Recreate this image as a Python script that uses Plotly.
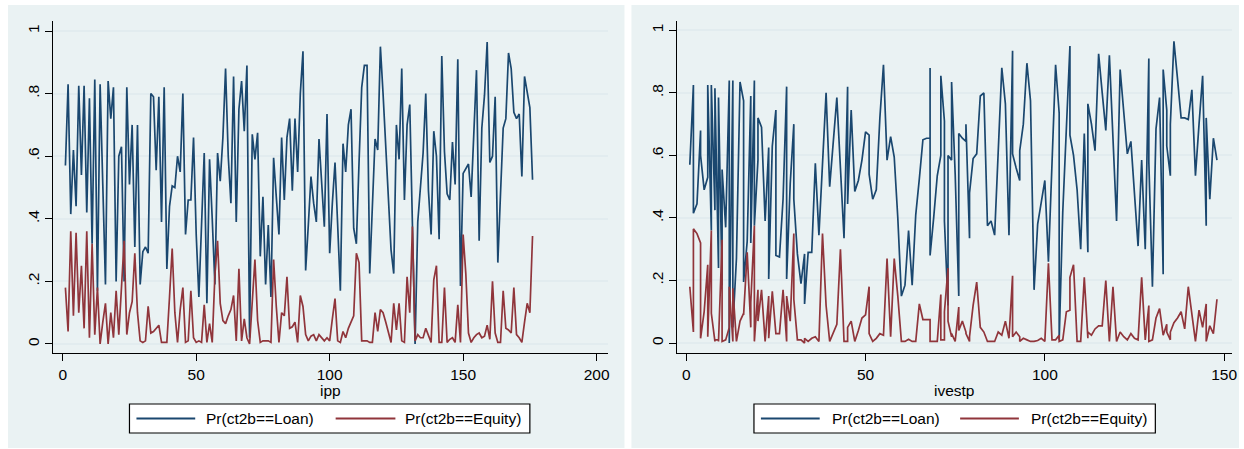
import plotly.graph_objects as go

# ---------------- data: left panel (x = ipp) ----------------
ipp_loan = [
    .57, .83, .415, .62, .44, .825, .54, .825, .42, .785, .32, .845, .17, .83, .51, .19, .84, .72, .82, .20,
    .60, .63, .20, .82, .51, .70, .31, .70, .19, .295, .31, .29, .80, .79, .555, .79, .39, .82, .24, .44,
    .505, .50, .60, .55, .80, .35, .46, .46, .66, .35, .15, .40, .61, .13, .59, .40, .19, .61, .52,
    .66, .88, .60, .45, .855, .39, .75, .84, .68, .89, .02, .67, .59, .675, .28, .47, .19, .38, .15, .595,
    .47, .35, .66, .46, .66, .72, .49, .72, .55, .80, .935, .235, .38, .535, .45, .39, .655, .50, .375, .735,
    .29, .45, .58, .38, .17, .64, .55, .70, .75, .37, .32, .58, .82, .89, .89, .225, .45, .655, .62, .95,
    .80, .62, .45, .30, .225, .70, .59, .88, .46, .70, .765, .37, .00, .39, .50, .61, .80, .49, .35, .68,
    .60, .335, .92, .615, .48, .46, .645, .51, .91, .185, .545, .56, .575, .47, .70, .875, .33, .69, .795, .965,
    .58, .60, .79, .26, .48, .69, .72, .93, .88, .74, .72, .735, .535, .855, .805, .755, .525,
]
ipp_equity = [
    .18, .04, .36, .09, .355, .10, .25, .05, .36, .02, .32, .03, .18, .00, .07, .13, .00, .10, .02, .17,
    .03, .18, .33, .03, .10, .135, .29, .10, .01, .005, .01, .12, .035, .04, .05, .06, .005, .005, .005, .15,
    .305, .10, .005, .11, .18, .005, .01, .17, .02, .005, .01, .005, .125, .005, .065, .005, .22, .33, .13,
    .075, .065, .09, .11, .155, .01, .24, .01, .08, .02, .00, .12, .27, .075, .005, .01, .01, .01, .005, .27,
    .12, .005, .10, .09, .215, .05, .055, .07, .005, .155, .12, .03, .01, .025, .03, .01, .03, .02, .01, .02,
    .01, .08, .145, .01, .005, .04, .02, .05, .07, .09, .29, .26, .01, .01, .01, .005, .005, .10, .04, .11,
    .10, .07, .035, .005, .13, .045, .13, .01, .005, .215, .10, .375, .01, .03, .02, .02, .05, .025, .005, .205,
    .25, .005, .005, .18, .005, .015, .02, .005, .125, .005, .35, .225, .035, .005, .02, .03, .035, .02, .025, .06,
    .015, .20, .035, .005, .005, .17, .05, .045, .035, .18, .03, .02, .005, .07, .13, .10, .345,
]
ipp = list(range(1, len(ipp_loan) + 1))

# ---------------- data: right panel (x = ivestp) ----------------
ivestp = [
    1, 2, 2, 3, 4, 4, 5, 6, 6, 7, 7, 8, 8, 9, 9, 10, 10, 11, 12, 12, 13, 13, 14, 15, 16, 16, 17, 18, 18, 19,
    19, 20, 20, 21, 22, 23, 23, 24, 25, 25, 26, 27, 28, 28, 29, 30, 30, 31, 32, 33, 33, 34, 35, 36, 37, 38, 39, 40,
    41, 42, 43, 44, 45, 45, 46, 47, 48, 49, 50, 51, 51, 52, 53, 54, 55, 56, 57, 58, 59, 60, 61, 62, 63, 64, 65,
    66, 67, 68, 68, 68, 69, 70, 71, 71, 72, 72, 73, 73, 74, 74, 75, 76, 76, 77, 78, 78, 79, 79, 80, 81, 82, 83,
    84, 85, 86, 87, 88, 89, 90, 91, 91, 92, 93, 93, 94, 95, 96, 97, 98, 99, 100, 101, 102, 103, 104, 104, 105,
    106, 107, 107, 108, 109, 110, 111, 112, 112, 113, 114, 115, 116, 117, 118, 119, 120, 121, 122, 123, 124,
    125, 126, 127, 128, 129, 129, 130, 131, 132, 133, 133, 134, 134, 135, 135, 136, 137, 138, 139, 140, 141,
    142, 143, 144, 145, 145, 146, 147, 148,
]
ivestp_loan = [
    .57, .825, .415, .445, .68, .60, .49, .53, .825, .36, .825, .425, .815, .24, .785, .185, .555, .37, .84, .00,
    .84, .05, .27, .835, .775, .195, .325, .79, .32, .84, .375, .585, .72, .69, .39, .625, .205, .63, .745, .28,
    .275, .46, .82, .205, .51, .70, .46, .285, .19, .285, .125, .29, .29, .575, .345, .56, .80, .50,
    .64, .785, .56, .335, .82, .445, .745, .485, .52, .585, .675, .665, .54, .46, .49, .72, .89, .585, .66, .595,
    .40, .15, .185, .36, .185, .41, .525, .65, .655, .655, .88, .28, .40, .535, .60, .855, .71, .39, .12, .60,
    .585, .835, .54, .15, .67, .655, .645, .70, .335, .48, .59, .605, .79, .80, .375, .39, .345, .615, .88, .765,
    .345, .935, .605, .56, .52, .615, .70, .895, .775, .17, .38, .45, .52, .26, .60, .89, .735, .01, .42, .675,
    .95, .665, .60, .49, .30, .67, .29, .765, .70, .615, .925, .80, .68, .92, .65, .39, .875, .74, .605, .645,
    .48, .31, .585, .30, .91, .58, .18, .685, .785, .22, .875, .745, .63, .535, .70, .965, .845, .72, .72, .715,
    .81, .535, .70, .855, .375, .72, .46, .655, .585,
]
ivestp_equity = [
    .18, .035, .365, .35, .32, .015, .10, .25, .02, .36, .095, .005, .01, .01, .005, .33, .005, .01, .05, .18,
    .005, .175, .005, .07, .095, .09, .29, .05, .13, .375, .005, .17, .07, .17, .005, .15, .015, .165, .03, .03,
    .03, .17, .005, .15, .07, .35, .14, .01, .01, .00, .015, .005, .015, .02, .005, .35, .12, .005,
    .03, .06, .30, .005, .005, .05, .07, .005, .04, .08, .09, .18, .03, .005, .015, .03, .025, .27, .02, .27,
    .15, .005, .005, .012, .005, .005, .125, .075, .075, .075, .005, .005, .005, .005, .155, .01, .01, .10, .24, .07,
    .02, .03, .005, .115, .04, .07, .035, .03, .005, .02, .12, .195, .05, .035, .005, .005, .005, .035, .025, .07,
    .015, .215, .02, .035, .02, .005, .015, .01, .005, .005, .008, .015, .005, .255, .01, .01, .025, .005, .01, .10,
    .105, .21, .25, .005, .005, .21, .015, .035, .025, .045, .055, .055, .20, .005, .18, .005, .035, .02, .01, .03,
    .015, .01, .21, .01, .12, .005, .01, .08, .11, .025, .025, .06, .035, .01, .035, .065, .08, .10, .045, .18,
    .10, .005, .105, .05, .125, .005, .055, .03, .14,
]

y_ticks = [0, 0.2, 0.4, 0.6, 0.8, 1]
y_tick_text = ["0", ".2", ".4", ".6", ".8", "1"]
ipp_ticks = [0, 50, 100, 150, 200]
ivestp_ticks = [0, 50, 100, 150]
legend_labels = ["Pr(ct2b==Loan)", "Pr(ct2b==Equity)"]

# ---------------- styling ----------------
W, H = 1244, 449
NAVY = "#1a476f"
MAROON = "#90353b"
BG = "#EAF2F3"
GRID = "#E2ECEF"
FONT = "Liberation Sans, Arial, sans-serif"


def px(x):
    return x / W


def py(y):
    return 1 - y / H


fig = go.Figure()
fig.add_trace(go.Scatter(x=ipp, y=ipp_loan, mode="lines", line=dict(color=NAVY, width=1.7),
                         xaxis="x", yaxis="y", showlegend=False))
fig.add_trace(go.Scatter(x=ipp, y=ipp_equity, mode="lines", line=dict(color=MAROON, width=1.7),
                         xaxis="x", yaxis="y", showlegend=False))
fig.add_trace(go.Scatter(x=ivestp, y=ivestp_loan, mode="lines", line=dict(color=NAVY, width=1.7),
                         xaxis="x2", yaxis="y2", showlegend=False))
fig.add_trace(go.Scatter(x=ivestp, y=ivestp_equity, mode="lines", line=dict(color=MAROON, width=1.7),
                         xaxis="x2", yaxis="y2", showlegend=False))

ydom = [py(353), py(21)]
common_x = dict(ticks="outside", ticklen=7, tickcolor="black", tickwidth=1, showline=True,
                linecolor="black", linewidth=1, showgrid=False, zeroline=False,
                tickfont=dict(size=15.5, color="black", family=FONT))
common_y = dict(ticks="outside", ticklen=7, tickcolor="black", tickwidth=1, showline=True,
                linecolor="black", linewidth=1, showgrid=True, gridcolor=GRID, gridwidth=1.5,
                zeroline=False, tickvals=y_ticks, ticktext=y_tick_text, tickangle=-90,
                tickfont=dict(size=15.5, color="black", family=FONT))

fig.update_layout(
    width=W, height=H, margin=dict(l=0, r=0, t=0, b=0),
    paper_bgcolor="white", plot_bgcolor="white",
    font=dict(family=FONT, size=15, color="black"),
    xaxis=dict(domain=[px(53), px(610)], range=[-3.73, 204.1], tickvals=ipp_ticks, anchor="y", **common_x),
    yaxis=dict(domain=ydom, range=[-0.0288, 1.032], anchor="x", **common_y),
    xaxis2=dict(domain=[px(680), px(1237)], range=[-2.5, 152.2], tickvals=ivestp_ticks, anchor="y2", **common_x),
    yaxis2=dict(domain=ydom, range=[-0.032, 1.03], anchor="x2", **common_y),
)

shapes = [
    dict(type="rect", xref="paper", yref="paper", x0=px(8), x1=px(627), y0=py(448), y1=py(5),
         fillcolor=BG, line=dict(width=0), layer="below"),
    dict(type="rect", xref="paper", yref="paper", x0=px(634), x1=px(1244), y0=py(448), y1=py(5),
         fillcolor=BG, line=dict(width=0), layer="below"),
]
annotations = []

# legends (one per panel)
for (bx0, bx1, l1, t1, l2, t2) in [(130, 532, (137, 196), 205, (337, 397), 405),
                                    (757, 1160, (764, 823), 833, (964, 1023), 1033)]:
    shapes.append(dict(type="rect", xref="paper", yref="paper", x0=px(bx0), x1=px(bx1),
                       y0=py(433), y1=py(404), fillcolor="white", line=dict(color="black", width=1.2),
                       layer="above"))
    for (seg, tx, col, lab) in [(l1, t1, NAVY, legend_labels[0]), (l2, t2, MAROON, legend_labels[1])]:
        shapes.append(dict(type="line", xref="paper", yref="paper", x0=px(seg[0]), x1=px(seg[1]),
                           y0=py(418.5), y1=py(418.5), line=dict(color=col, width=1.8), layer="above"))
        annotations.append(dict(text=lab, xref="paper", yref="paper", x=px(tx), y=py(418.5),
                                xanchor="left", yanchor="middle", showarrow=False,
                                font=dict(size=15.5, color="black", family=FONT)))

# axis titles
annotations.append(dict(text="ipp", xref="paper", yref="paper", x=px(331.5), y=py(390),
                        xanchor="center", yanchor="middle", showarrow=False,
                        font=dict(size=15.5, color="black", family=FONT)))
annotations.append(dict(text="ivestp", xref="paper", yref="paper", x=px(958.5), y=py(390),
                        xanchor="center", yanchor="middle", showarrow=False,
                        font=dict(size=15.5, color="black", family=FONT)))

fig.update_layout(shapes=shapes, annotations=annotations)
fig.write_html("out.html", config={"displayModeBar": False},
               post_script="document.body.style.margin='0px';document.body.style.overflow='hidden';")
